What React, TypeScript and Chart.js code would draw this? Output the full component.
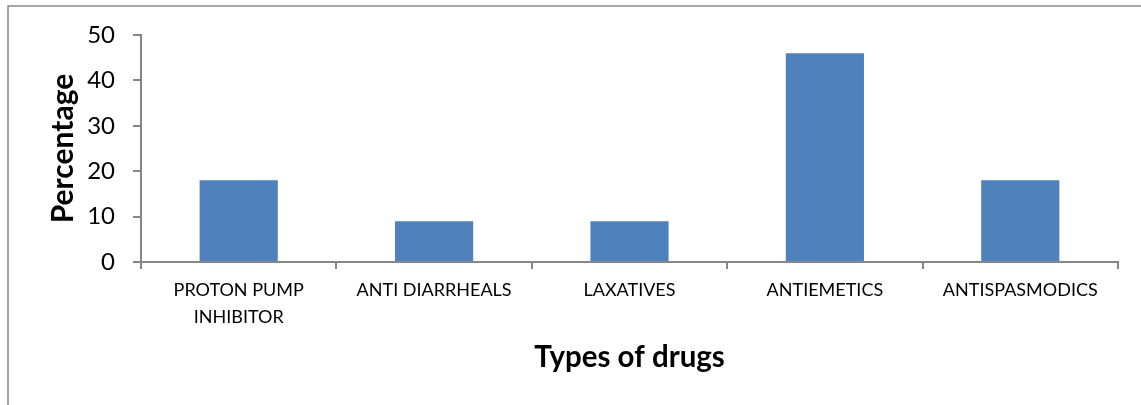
import React, { useEffect, useRef } from "react";
import { Chart, registerables } from "chart.js";

Chart.register(...registerables);

const categories: (string | string[])[] = [
  ["PROTON PUMP", "INHIBITOR"],
  "ANTI DIARRHEALS",
  "LAXATIVES",
  "ANTIEMETICS",
  "ANTISPASMODICS",
];
const percentages: number[] = [18, 9, 9, 46, 18];
const yTickValues: number[] = [0, 10, 20, 30, 40, 50];
const xTitle = "Types of drugs";
const yTitle = "Percentage";

const FONT = "Lato, 'Open Sans', sans-serif";
const AXIS_GRAY = "#868686";

const framePlugin = {
  id: "frame",
  beforeDraw(chart: any) {
    const { ctx, width, height } = chart;
    ctx.save();
    ctx.fillStyle = "#ffffff";
    ctx.fillRect(0, 0, width, height);
    ctx.strokeStyle = AXIS_GRAY;
    ctx.lineWidth = 1.5;
    ctx.beginPath();
    ctx.moveTo(8, height);
    ctx.lineTo(8, 6);
    ctx.lineTo(width, 6);
    ctx.stroke();
    ctx.restore();
  },
};

export default function App() {
  const ref = useRef<HTMLCanvasElement | null>(null);

  useEffect(() => {
    if (!ref.current) return;
    const chart = new Chart(ref.current, {
      type: "bar",
      data: {
        labels: categories,
        datasets: [
          {
            data: percentages,
            backgroundColor: "#4F81BD",
            borderColor: "#4F81BD",
            borderWidth: 0,
            barPercentage: 0.4,
            categoryPercentage: 1,
          },
        ],
      },
      plugins: [framePlugin],
      options: {
        responsive: false,
        animation: false,
        devicePixelRatio: 1,
        layout: {
          autoPadding: false,
          padding: { top: 35, right: 23, bottom: 0, left: 0 },
        },
        plugins: {
          legend: { display: false },
          tooltip: { enabled: false },
          title: { display: false },
        },
        scales: {
          x: {
            offset: true,
            afterFit: (s: any) => {
              s.height = 143;
            },
            grid: {
              display: true,
              drawOnChartArea: false,
              drawTicks: true,
              tickLength: 7,
              color: AXIS_GRAY,
              lineWidth: 2,
              offset: true,
            },
            border: { display: true, color: AXIS_GRAY, width: 2 },
            ticks: {
              color: "#000",
              font: { family: FONT, size: 18, lineHeight: 1.47 },
              padding: 8,
              maxRotation: 0,
              minRotation: 0,
              autoSkip: false,
            },
            title: {
              display: true,
              text: xTitle,
              color: "#000",
              font: { family: FONT, size: 29.5, weight: "bold", lineHeight: 1.2 },
              padding: { top: 0, bottom: 30 },
            },
          },
          y: {
            min: 0,
            max: 50,
            afterFit: (s: any) => {
              s.width = 141;
            },
            afterBuildTicks: (s: any) => {
              s.ticks = yTickValues.map((v) => ({ value: v }));
            },
            grid: {
              display: true,
              drawOnChartArea: false,
              drawTicks: true,
              tickLength: 8,
              color: AXIS_GRAY,
              lineWidth: 2,
            },
            border: { display: true, color: AXIS_GRAY, width: 2 },
            ticks: {
              color: "#000",
              font: { family: FONT, size: 24 },
              padding: 18,
            },
            title: {
              display: true,
              text: yTitle,
              color: "#000",
              font: { family: FONT, size: 30, weight: "bold", lineHeight: 1.2 },
              padding: { top: 45, bottom: 0 },
            },
          },
        },
      },
    });
    return () => chart.destroy();
  }, []);

  return (
    <div
      style={{
        position: "fixed",
        left: 0,
        top: 0,
        width: 1141,
        height: 405,
        background: "#fff",
      }}
    >
      <canvas ref={ref} width={1141} height={405} style={{ display: "block" }} />
    </div>
  );
}
